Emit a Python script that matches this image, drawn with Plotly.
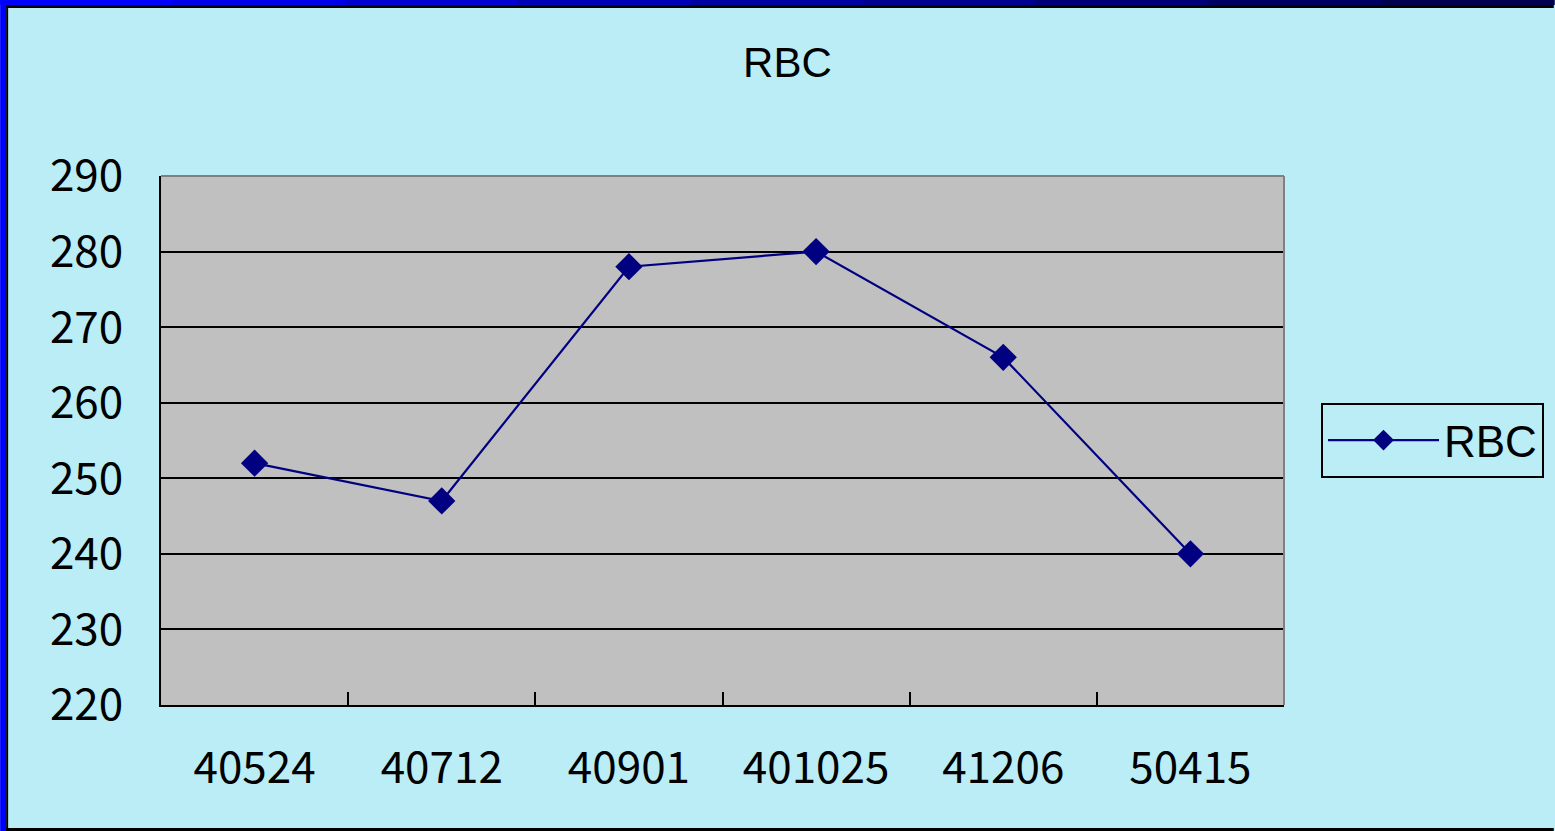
import plotly.graph_objects as go

categories = ["40524", "40712", "40901", "401025", "41206", "50415"]
rbc_values = [252, 247, 278, 280, 266, 240]
y_ticks = [220, 230, 240, 250, 260, 270, 280, 290]

W, H = 1555, 831
L, R, T, B = 161, 1285, 176, 705  # plot area pixel box
PW, PH = R - L, B - T

def xp(px):
    return (px - L) / PW

def yp(py):
    return (B - py) / PH

BG = "#BAEDF6"
NAVY = "#000080"
SANS = "Liberation Sans, Arial, sans-serif"
TICKFONT = "Noto Sans CJK JP"

fig = go.Figure()
fig.add_trace(go.Scatter(
    x=categories, y=rbc_values, mode="lines+markers", name="RBC",
    line=dict(color=NAVY, width=2.2),
    marker=dict(symbol="diamond", size=21, color=NAVY),
))

shapes = []
def rect(x0, y0, x1, y1, color):
    shapes.append(dict(type="rect", xref="paper", yref="paper",
                       x0=xp(x0), x1=xp(x1), y0=yp(y0), y1=yp(y1),
                       fillcolor=color, line=dict(width=0), layer="above"))

# outer frame: blue left band, gradient top band, black inner lines
rect(0, 0, 6, 831, "#0000FF")
grad = ["#0000FF", "#0000E8", "#0000D0", "#0000B8", "#0000A0", "#000090", "#000078", "#000062", "#000050"]
seg = W / len(grad)
for i, c in enumerate(grad):
    rect(i * seg, 0, (i + 1) * seg + 1, 5, c)
rect(6, 5, W, 8, "#000000")
rect(6, 5, 8, 831, "#000000")
rect(6, 828, W, 831, "#000000")
# plot area top and right border (gray)
shapes.append(dict(type="line", xref="paper", yref="paper", x0=0, x1=1, y0=1, y1=1,
                   line=dict(color="#808080", width=2), layer="above"))
shapes.append(dict(type="line", xref="paper", yref="paper", x0=1, x1=1, y0=0, y1=1,
                   line=dict(color="#808080", width=2), layer="above"))

fig.update_layout(
    width=W, height=H,
    margin=dict(l=L, r=W - R, t=T, b=H - B, pad=0),
    paper_bgcolor=BG, plot_bgcolor="#C0C0C0",
    title=dict(text="RBC", x=xp(788), xref="paper", xanchor="center",
               y=1 - 62 / H, yref="container", yanchor="middle",
               font=dict(family=SANS, size=42, color="black")),
    showlegend=True,
    legend=dict(x=xp(1321), y=yp(403), xanchor="left", yanchor="top",
                bgcolor="rgba(0,0,0,0)", bordercolor="black", borderwidth=2,
                font=dict(family=SANS, size=44, color="black"),
                itemwidth=111, itemsizing="trace"),
    shapes=shapes,
    xaxis=dict(type="category", range=[-0.5, 5.5], tickson="boundaries",
               ticks="inside", ticklen=13, tickwidth=2, tickcolor="black",
               showline=True, linecolor="black", linewidth=2,
               showgrid=False, zeroline=False, ticklabelstandoff=23,
               tickfont=dict(family=TICKFONT, size=44, color="black")),
    yaxis=dict(range=[220, 290], tickvals=y_ticks, ticks="inside", ticklen=13,
               tickwidth=2, tickcolor="black",
               showline=True, linecolor="black", linewidth=2,
               showgrid=True, gridcolor="black", gridwidth=2, zeroline=False,
               ticklabelstandoff=27,
               tickfont=dict(family=TICKFONT, size=44, color="black")),
)

fig.write_html("out.html", config={"displayModeBar": False},
               post_script="document.body.style.margin='0';document.body.style.overflow='hidden';")
